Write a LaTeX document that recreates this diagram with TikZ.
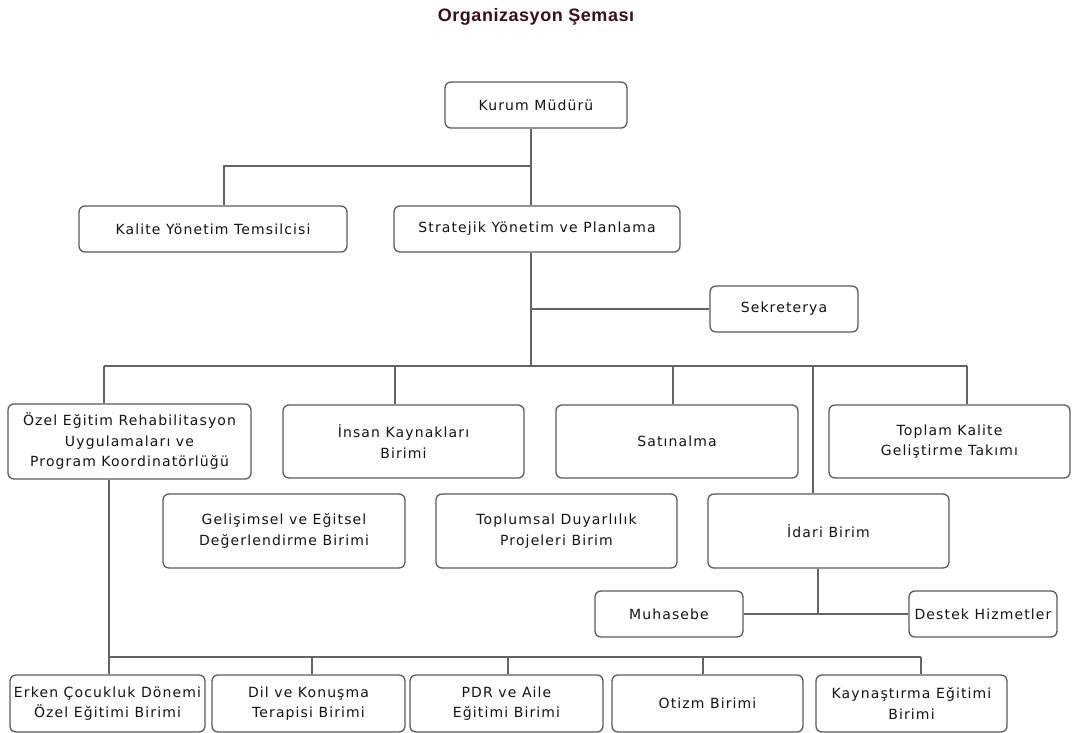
\documentclass[tikz,border=0pt]{standalone}
\usepackage{fontspec}
\setmainfont{DejaVu Sans}[LetterSpace=8]
\newfontfamily\titlefont{Liberation Sans}[LetterSpace=3]
\usepackage{tikz}
\usetikzlibrary{positioning}

\definecolor{titlered}{RGB}{62,14,26}
\definecolor{boxline}{RGB}{92,92,92}
\definecolor{connline}{RGB}{100,100,100}
\definecolor{boxtext}{RGB}{20,20,20}

\tikzset{
  unit/.style={draw=boxline,line width=1.3pt,rounded corners=6pt,fill=white,
    align=center,inner sep=0pt,text=boxtext,
    font=\fontsize{14}{20.5}\selectfont},
  conn/.style={draw=connline,line width=1.4pt}
}

\begin{document}
\begin{tikzpicture}[x=1pt,y=-1pt]
  \useasboundingbox [fill=white] (0,0) rectangle (1072,733);

  \node [text=titlered,font=\titlefont\bfseries\fontsize{18}{20}\selectfont] (title) at (536,17) {Organizasyon Şeması};

  % top levels
  \node [unit,minimum width=182pt,minimum height=46pt] (kurum) at (536,105) {Kurum Müdürü};
  \node [unit,minimum width=268pt,minimum height=46pt] (kalite) at (213,229) {Kalite Yönetim Temsilcisi};
  \node [unit,minimum width=286pt,minimum height=46pt] (strat) at (537,229) {Stratejik Yönetim ve Planlama};
  \node [unit,minimum width=148pt,minimum height=46pt] (sekr) at (784,309) {Sekreterya};

  % units
  \node [unit,minimum width=243pt,minimum height=75pt] (ozel) at (129.5,441.5) {Özel Eğitim Rehabilitasyon\\Uygulamaları ve\\Program Koordinatörlüğü};
  \node [unit,minimum width=241pt,minimum height=73pt] (insan) at (403.5,441.5) {İnsan Kaynakları\\Birimi};
  \node [unit,minimum width=242pt,minimum height=73pt] (satin) at (677,441.5) {Satınalma};
  \node [unit,minimum width=241pt,minimum height=73pt] (toplam) at (949.5,441.5) {Toplam Kalite\\Geliştirme Takımı};

  \node [unit,minimum width=242pt,minimum height=74pt] (gelis) at (284,531) {Gelişimsel ve Eğitsel\\Değerlendirme Birimi};
  \node [unit,minimum width=241pt,minimum height=74pt] (toplum) at (556.5,531) {Toplumsal Duyarlılık\\Projeleri Birim};
  \node [unit,minimum width=241pt,minimum height=74pt] (idari) at (828.5,531) {İdari Birim};

  \node [unit,minimum width=148pt,minimum height=46pt] (muh) at (669,614) {Muhasebe};
  \node [unit,minimum width=148pt,minimum height=46pt] (destek) at (983,614) {Destek Hizmetler};

  % bottom row
  \node [unit,minimum width=195pt,minimum height=57pt] (erken) at (107.5,703.5) {Erken Çocukluk Dönemi\\Özel Eğitimi Birimi};
  \node [unit,minimum width=193pt,minimum height=57pt] (dil) at (308.5,703.5) {Dil ve Konuşma\\Terapisi Birimi};
  \node [unit,minimum width=193pt,minimum height=57pt] (pdr) at (506.5,703.5) {PDR ve Aile\\Eğitimi Birimi};
  \node [unit,minimum width=191pt,minimum height=57pt] (otizm) at (707.5,703.5) {Otizm Birimi};
  \node [unit,minimum width=191pt,minimum height=57pt] (kayn) at (911.5,703.5) {Kaynaştırma Eğitimi\\Birimi};

  % bus points
  \coordinate (topbus) at (531,166);
  \coordinate (midbus) at (531,366);
  \coordinate (busL) at (104,366);
  \coordinate (busR) at (967,366);
  \coordinate (botL) at (109,657);
  \coordinate (botR) at (921,657);

  \path [conn]
    ([xshift=-5pt]kurum.south) -- ([xshift=-6pt]strat.north)
    (topbus) -| ([xshift=11pt]kalite.north)
    ([xshift=-6pt]strat.south) -- (midbus)
    (midbus |- sekr.west) -- (sekr.west)
    (busL) -- (busR)
    (busL) -- (busL |- ozel.north)
    ([xshift=-8.5pt]insan.north) -- ([xshift=-8.5pt]insan.north |- busL)
    ([xshift=-4pt]satin.north) -- ([xshift=-4pt]satin.north |- busL)
    (busR) -- (busR |- toplam.north)
    ([xshift=-15.5pt]idari.north) -- ([xshift=-15.5pt]idari.north |- busL);

  \path [conn]
    ([xshift=-10.5pt]idari.south) -- ([xshift=-10.5pt]idari.south |- muh.east)
    (muh.east) -- (destek.west);

  \path [conn]
    ([xshift=-20.5pt]ozel.south) -- (botL)
    (botL) -- (botR)
    (botL) -- (botL |- erken.north)
    ([xshift=3.5pt]dil.north) -- ([xshift=3.5pt]dil.north |- botL)
    ([xshift=1.5pt]pdr.north) -- ([xshift=1.5pt]pdr.north |- botL)
    ([xshift=-4.5pt]otizm.north) -- ([xshift=-4.5pt]otizm.north |- botL)
    (botR) -- (botR |- kayn.north);

\end{tikzpicture}
\end{document}
